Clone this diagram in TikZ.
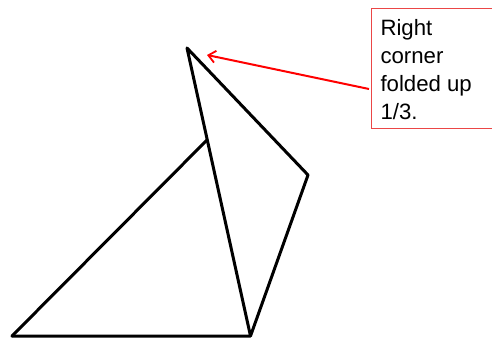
\documentclass[tikz,border=0pt]{standalone}
\usepackage{fontspec}
\setmainfont{Liberation Sans}
\usetikzlibrary{arrows.meta}
\definecolor{calloutred}{RGB}{235,70,70}
\tikzset{
  fold/.style={line width=3pt, line join=round, line cap=round, black},
  pointer/.style={draw=red, line width=2pt, -{Straight Barb[length=7pt,width=12pt,line width=1.8pt]}},
  callout/.style={draw=calloutred, line width=1.2pt, fill=white}
}
\begin{document}
\begin{tikzpicture}[x=1pt,y=-1pt]
\useasboundingbox (0,0) rectangle (492,339);
\coordinate (top) at (187,48);
\coordinate (mid) at (207,140);
\coordinate (rc) at (308,175);
\coordinate (bl) at (12,336);
\coordinate (br) at (250.5,336);
\draw[fold] (bl) -- (br) -- (rc) -- (top) -- (br);
\draw[fold] (bl) -- (mid);
\draw[callout] (371.5,8.5) rectangle (500,128.5);
\node[anchor=base west, inner sep=0pt, align=left, font=\fontsize{22.2}{28.3}\selectfont] (txt) at (380.3,120) {Right\\corner\\folded up\\1/3.};
\coordinate (astart) at (369,89);
\coordinate (atip) at (207,55);
\draw[pointer] (astart) -- (atip);
\end{tikzpicture}
\end{document}
